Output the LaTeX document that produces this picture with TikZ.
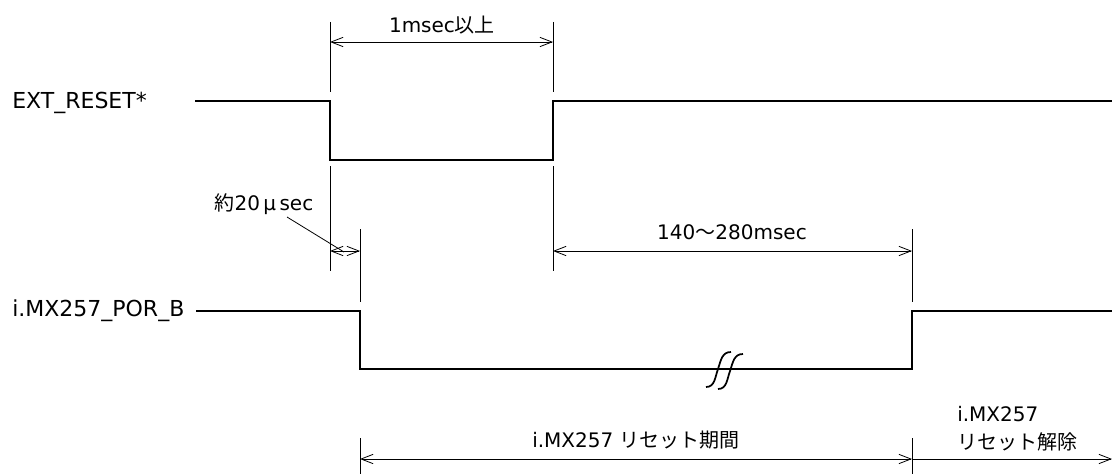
\documentclass[tikz,border=0pt]{standalone}
\usepackage{fontspec}
\setmainfont{DejaVu Sans}
\newfontfamily\jp{Noto Sans CJK JP}
\usetikzlibrary{arrows.meta,positioning}

\begin{document}
\begin{tikzpicture}[x=0.75pt,y=-0.75pt,>={Straight Barb[length=9pt,width=7pt]},
                    signal/.style={line width=1.5pt,line join=miter},
                    dim/.style={line width=0.6pt},
                    lbl/.style={font=\fontsize{15}{18}\selectfont,inner sep=0pt},
                    signame/.style={font=\fontsize{16.5}{20}\selectfont,inner sep=0pt,anchor=west}]

  \useasboundingbox (0,0) rectangle (1112,474);

  % signal names
  \node[signame] (ext) at (12,103) {EXT\_RESET*};
  \node[signame] (por) at (12,311) {i.MX257\_POR\_B};

  % EXT_RESET*
  \coordinate (e0) at (195,101);
  \coordinate (e1) at (330,101);
  \coordinate (e2) at (553,101);
  \coordinate (e3) at (1112,101);
  \draw[signal] (e0) -- (e1) -- (330,160) -- (553,160) -- (e2) -- (e3);

  % i.MX257_POR_B
  \coordinate (p0) at (196,311);
  \coordinate (p1) at (360,311);
  \coordinate (p2) at (912,311);
  \coordinate (p3) at (1112,311);
  \draw[signal] (p0) -- (p1) -- (360,369) -- (912,369) -- (p2) -- (p3);
  \draw[line width=1.3pt] (706,387) .. controls (715,387) and (715,377) .. (718,369)
                          .. controls (721,360) and (722,352) .. (731,352);
  \draw[line width=1.3pt] (718,389) .. controls (727,389) and (727,379) .. (730,371)
                          .. controls (733,362) and (734,354) .. (743,354);

  % guide lines
  \draw[dim] (330,22) -- (330,92)  (553,22) -- (553,92);
  \draw[dim] (330,166) -- (330,271) (553,166) -- (553,271);
  \draw[dim] (360,229) -- (360,302) (912,229) -- (912,302);
  \draw[dim] (360,438) -- (360,474) (912,438) -- (912,474);

  % 1msec
  \coordinate (a1) at (330,42);
  \coordinate (a2) at (553,42);
  \draw[dim,<->] (a1) -- (a2);
  \node[lbl] (t1) at (442,25) {1msec{\jp 以上}};

  % 20usec
  \coordinate (b1) at (330,251);
  \coordinate (b2) at (360,251);
  \draw[dim,<->] (b1) -- (b2);
  \node[lbl] (t2) at (264,204) {{\jp 約}20\,μ\,sec};
  \coordinate (b3) at (287,217);
  \coordinate (b4) at (344,252);
  \draw[dim] (b3) -- (b4);

  % 140~280msec
  \coordinate (c1) at (553,251);
  \coordinate (c2) at (912,251);
  \draw[dim,<->] (c1) -- (c2);
  \node[lbl] (t3) at (732,232) {140{\jp ～}280msec};

  % reset period
  \coordinate (d1) at (360,459);
  \coordinate (d2) at (912,459);
  \coordinate (d3) at (1112,459);
  \draw[dim,<->] (d1) -- (d2);
  \draw[dim,->] (d2) -- (d3);
  \node[lbl] (t4) at (636,440) {i.MX257 {\jp リセット期間}};
  \node[lbl,anchor=west] (t5) at (957,414) {i.MX257};
  \node[lbl,anchor=west] (t6) at (957,442) {\jp リセット解除};
\end{tikzpicture}
\end{document}
